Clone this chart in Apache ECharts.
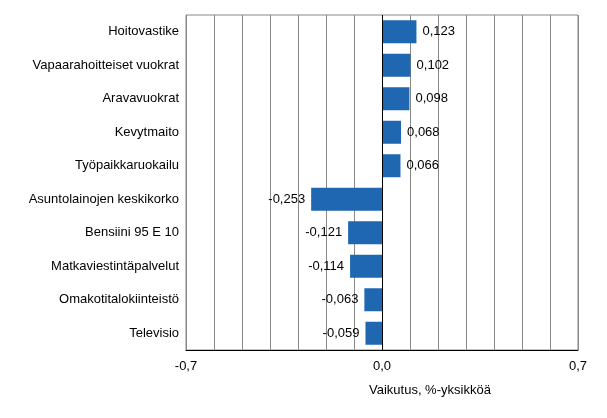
<!DOCTYPE html>
<html><head><meta charset="utf-8">
<script src="https://cdn.jsdelivr.net/npm/echarts@6/dist/echarts.min.js"></script>
<style>html,body{margin:0;background:#fff}#c{width:607px;height:418px}</style>
</head><body><div id="c"></div>
<script>
const categories = ['Hoitovastike', 'Vapaarahoitteiset vuokrat', 'Aravavuokrat', 'Kevytmaito', 'Työpaikkaruokailu',
  'Asuntolainojen keskikorko', 'Bensiini 95 E 10', 'Matkaviestintäpalvelut', 'Omakotitalokiinteistö', 'Televisio']
const values = [0.123, 0.102, 0.098, 0.068, 0.066, -0.253, -0.121, -0.114, -0.063, -0.059]
const tickLabels = ['-0,7', '0,0', '0,7']
const font = 'Liberation Sans, Arial, sans-serif'
const fmt = v => v.toFixed(3).replace('.', ',')

const chart = echarts.init(document.getElementById('c'))
chart.setOption({
  animation: false,
  grid: { left: 186, right: 29, top: 15, bottom: 68, show: true, borderColor: '#888', borderWidth: 1 },
  xAxis: {
    type: 'value', min: -0.7, max: 0.7, interval: 0.1,
    axisLine: { show: true, lineStyle: { color: '#000' } },
    axisTick: { show: false },
    splitLine: { show: true, lineStyle: { color: '#888', width: 1 } },
    axisLabel: {
      color: '#000', fontFamily: font, fontSize: 13, margin: 10,
      formatter: v => {
        const r = Math.round(v * 10)
        return r === -7 ? tickLabels[0] : r === 0 ? tickLabels[1] : r === 7 ? tickLabels[2] : ''
      },
    },
  },
  yAxis: {
    type: 'category', data: categories, inverse: true,
    axisLine: { show: false }, axisTick: { show: false },
    axisLabel: { color: '#000', fontFamily: font, fontSize: 13, margin: 7 },
  },
  series: [{
    type: 'bar', barWidth: 23,
    data: values.map(v => ({
      value: v,
      label: { show: true, position: v >= 0 ? 'right' : 'left', distance: 6, formatter: fmt(v),
        color: '#000', fontFamily: font, fontSize: 13 },
    })),
    itemStyle: { color: '#1f67b1' },
    markLine: {
      silent: true, symbol: 'none', label: { show: false },
      lineStyle: { color: '#000', type: 'solid', width: 1 },
      data: [{ xAxis: 0 }],
    },
  }],
  graphic: [{ type: 'text', left: 369, top: 384, style: { text: 'Vaikutus, %-yksikköä', fill: '#000', font: '13px ' + font } }],
})
</script></body></html>
